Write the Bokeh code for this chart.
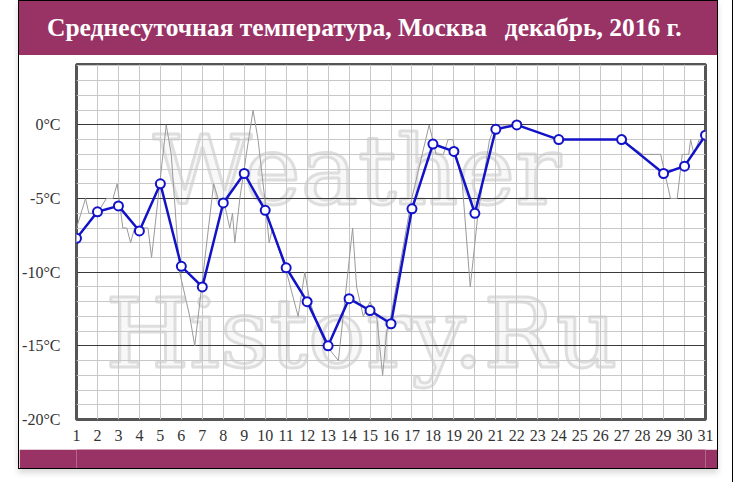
from bokeh.plotting import figure
from bokeh.models import Range1d, FixedTicker, Div
from bokeh.layouts import column
from bokeh.embed import file_html
from bokeh.resources import INLINE
from bokeh.core.properties import value

# ---- data ----
days = [1, 2, 3, 4, 5, 6, 7, 8, 9, 10, 11, 12, 13, 14, 15, 16, 17, 18, 19, 20, 21, 22, 24, 27, 29, 30, 31]
daily_mean = [-7.7, -5.9, -5.5, -7.2, -4.0, -9.6, -11.0, -5.3, -3.3, -5.8, -9.7, -12.0, -15.0, -11.8,
              -12.6, -13.5, -5.7, -1.3, -1.8, -6.0, -0.3, 0.0, -1.0, -1.0, -3.3, -2.8, -0.7]

obs_day = [1.0, 1.43, 1.59, 2.0, 2.42, 2.74, 2.94, 3.21, 3.4, 3.58, 3.77, 4.41, 4.58, 5.28, 5.52,
           5.92, 6.24, 6.4, 6.64, 7.54, 7.75, 8.0, 8.31, 8.44, 8.55, 8.79, 9.1, 9.42, 9.66, 9.98,
           10.19, 10.35, 10.54, 11.02, 11.57, 11.89, 12.13, 12.61, 12.93, 13.49, 14.17, 14.36,
           14.68, 15.0, 15.32, 15.6, 15.8, 15.99, 16.99, 17.82, 18.15, 18.5, 18.72, 18.95, 19.4,
           19.78, 20.15, 20.7, 21.0, 22.0, 24.0, 27.0, 28.0, 28.86, 29.33, 29.65, 29.89, 30.2,
           30.29, 30.45, 30.7, 31.0]
obs_temp = [-7, -5, -6, -6, -5, -5, -4, -7, -7, -8, -7, -7, -9, 0, -2,
            -10, -12, -13, -15, -4, -5, -5, -7, -6, -8, -5, -2, 1, -1, -5,
            -8, -7, -8, -10, -13, -10, -12, -14, -15, -16, -7, -11,
            -13, -12, -13, -17, -14, -13, -5, 0, -2, -2, -1, -1, -4,
            -11, -6, -1, 0, 0, -1, -1, -2, -2, -5, -5, -2, -2,
            -1, -2, -1, -1]

x_ticks = list(range(1, 32))
y_ticks = [-20, -15, -10, -5, 0]
y_minor = list(range(-20, 5))
y_labels = {t: f"{t}°C" for t in y_ticks}

title_text = "Среднесуточная температура, Москва\u2002\u2009декабрь, 2016 г."
watermark = ["Weather", "History.Ru"]

MAROON = "#993366"
BLUE = "#1212c8"

# ---- title band ----
t = Div(width=698, height=54,
        text=('<div style="padding-left:28px; font-family:\'Liberation Serif\'; font-weight:bold; '
              'font-size:25.5px; color:#ffffff; line-height:54px; white-space:nowrap;">'
              + title_text + '</div>'),
        styles={"background-color": MAROON, "margin": "0", "padding": "0"})

# ---- main chart ----
p = figure(width=698, height=394, x_range=Range1d(1, 31), y_range=Range1d(-20, 4.1),
           output_backend="svg", toolbar_location=None,
           min_border_left=57, min_border_right=12, min_border_top=9, min_border_bottom=30,
           background_fill_color="white", border_fill_color="white")
p.outline_line_color = "#555555"
p.outline_line_width = 3

p.xaxis.ticker = FixedTicker(ticks=x_ticks)
p.yaxis.ticker = FixedTicker(ticks=y_ticks)
p.yaxis.major_label_overrides = y_labels
p.xgrid.ticker = FixedTicker(ticks=x_ticks)
p.ygrid.ticker = FixedTicker(ticks=y_ticks, minor_ticks=y_minor)
p.xgrid.grid_line_color = "#c8c8c8"
p.ygrid.grid_line_color = "#3a3a3a"
p.ygrid.grid_line_width = 1.2
p.ygrid.minor_grid_line_color = "#c8c8c8"

for ax in (p.xaxis, p.yaxis):
    ax.axis_line_color = None
    ax.major_tick_line_color = None
    ax.minor_tick_line_color = None
    ax.major_label_text_font = "Liberation Serif"
    ax.major_label_text_font_size = "16px"
    ax.major_label_text_color = "#333333"
p.yaxis.major_label_standoff = 10
p.xaxis.major_label_standoff = 4

p.text(x=[14.38, 14.6], y=[-3.1, -14.2], text=watermark, text_font=value("DejaVu Serif"),
       text_font_size="96px", text_align="center", text_baseline="alphabetic",
       text_color="#f8f8f8", text_outline_color="#dedede", level="image")

p.line(obs_day, obs_temp, line_color="#9a9a9a", line_width=1)
p.line(days, daily_mean, line_color=BLUE, line_width=2.5)
p.scatter(days, daily_mean, size=9, fill_color="white", line_color=BLUE, line_width=2)

# ---- bottom band ----
b = figure(width=698, height=19, x_range=Range1d(0, 1), y_range=Range1d(0, 1),
           output_backend="svg", toolbar_location=None, min_border=0,
           x_axis_location=None, y_axis_location=None,
           background_fill_color=MAROON, border_fill_color=MAROON)
b.outline_line_color = None
b.grid.visible = False

inner = column(t, p, b, styles={"margin-left": "18px",
                                "border": "1px solid #000000",
                                "box-shadow": "0 4px 6px rgba(0,0,0,0.15)"})
outer = column(inner, width=733, height=482, styles={"border-right": "1px solid #000000"})

open("out.html", "w").write(file_html(outer, INLINE, title="Среднесуточная температура"))
